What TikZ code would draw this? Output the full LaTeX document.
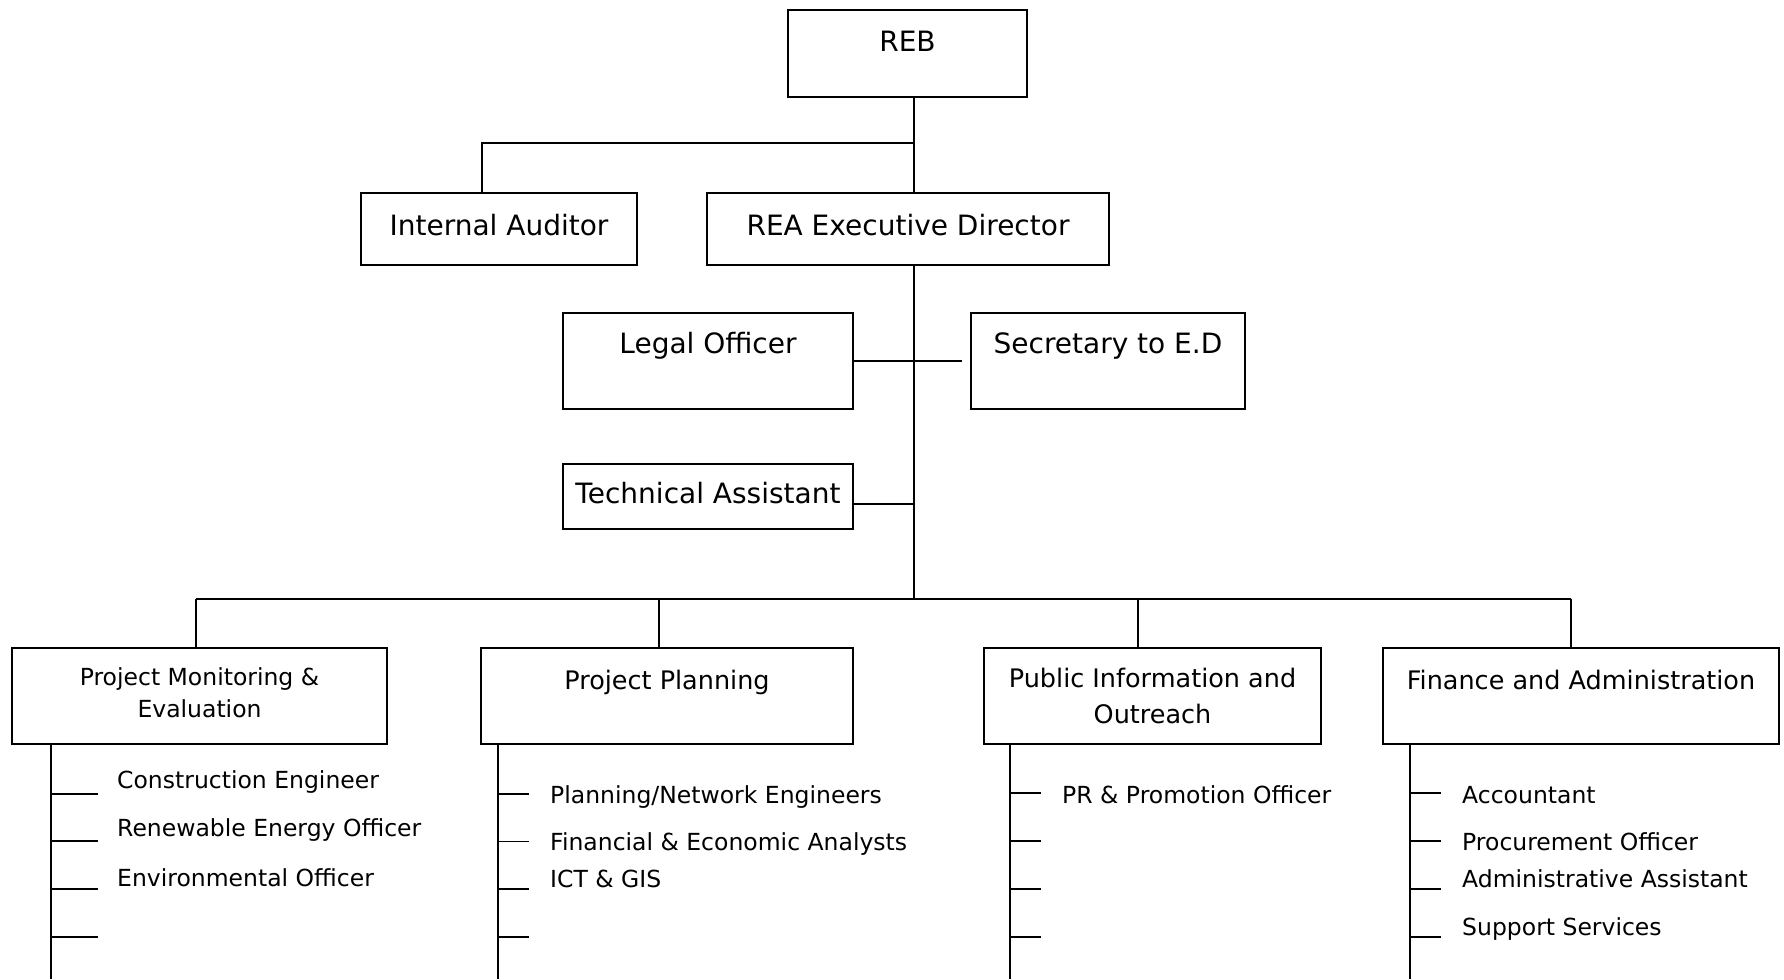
\documentclass[tikz,border=0pt]{standalone}
\usepackage{fontspec}
\setmainfont{DejaVu Sans}
\usepackage{tikz}
\usetikzlibrary{positioning}
\newcommand{\topfont}{\fontsize{28}{34}\selectfont}
\newcommand{\deptfont}{\fontsize{25.5}{36}\selectfont}
\newcommand{\rolefont}{\fontsize{23.5}{32}\selectfont}
\tikzset{
    orgbox/.style={rectangle, draw, line width=2pt, inner sep=0pt, anchor=north west, align=center, font=\topfont},
    deptbox/.style={orgbox, font=\deptfont},
    role/.style={anchor=base west, inner sep=0pt, font=\rolefont},
    link/.style={draw, line width=2pt},
    stub/.style={draw, line width=2pt}
}
\begin{document}
\begin{tikzpicture}[x=1pt, y=-1pt]
        \useasboundingbox (0,0) rectangle (1784,979);
        % top of the chart
        \node[orgbox, minimum width=239pt, text height=42pt, text depth=45pt] (reb) at (787,9) {REB};
        \node[orgbox, minimum width=276pt, text height=43pt, text depth=29.5pt] (auditor) at (360,191.5) {Internal Auditor};
        \node[orgbox, minimum width=402pt, text height=43pt, text depth=29.5pt] (director) at (706,191.5) {REA Executive Director};
        \node[orgbox, minimum width=290pt, text height=41pt, text depth=55.5pt] (legal) at (562,311.5) {Legal Officer};
        \node[orgbox, minimum width=274pt, text height=41pt, text depth=55.5pt] (secretary) at (970,311.5) {Secretary to E.D};
        \node[orgbox, minimum width=290pt, text height=40pt, text depth=25pt] (techasst) at (562,462.5) {Technical Assistant};

        % departments
        \node[deptbox, font=\rolefont, minimum width=375pt, text height=69.7pt, text depth=26.3pt] (pme) at (11,647) {Project Monitoring \&\\Evaluation};
        \node[deptbox, minimum width=372pt, text height=41pt, text depth=55pt] (planning) at (480,647) {Project Planning};
        \node[deptbox, minimum width=337pt, text height=75.7pt, text depth=20.3pt] (outreach) at (983,647) {Public Information and\\Outreach};
        \node[deptbox, minimum width=396pt, text height=41pt, text depth=55pt] (finance) at (1382,647) {Finance and Administration};

        \coordinate (fork) at (914,143);
        \coordinate (auditfork) at (482,143);
        \coordinate (bus) at (914,598.5);
        \coordinate (foot) at (0,979);

        \draw[link] (reb.south -| fork) -- (director.north -| fork);
        \draw[link] (fork) -- (auditfork) -- (auditor.north -| auditfork);
        \draw[link] (director.south -| bus) -- (bus);
        \draw[link] (legal.east) -- ([xshift=-8pt]secretary.west);
        \draw[link] ([yshift=-8pt]techasst.east) -- ([yshift=-8pt]techasst.east -| bus);

        \draw[link] ([xshift=-3.5pt]pme.north |- bus) -- ([xshift=-10pt]finance.north |- bus);
        \foreach \n/\s in {pme/-3.5, planning/-8, outreach/-14.5, finance/-10}
            \draw[link] ([xshift=\s pt]\n.north |- bus) -- ([xshift=\s pt]\n.north);

        % staff lines
        \foreach \n/\dx in {pme/39.5, planning/17.7, outreach/27, finance/28}
            \draw[link] ([xshift=\dx pt]\n.south west) -- ([xshift=\dx pt]\n.south west |- foot);
        \foreach \d in {49,96,144,192}
            \draw[stub] ([shift={(39.5pt,-\d pt)}]pme.south west) -- ++(47pt,0);
        \foreach \d in {49,144,192}
            \draw[stub] ([shift={(17.7pt,-\d pt)}]planning.south west) -- ++(31pt,0);
        \draw[line width=1pt] ([shift={(17.7pt,-96pt)}]planning.south west) -- ++(31pt,0);
        \foreach \n/\dx in {outreach/27, finance/28}
            \foreach \d in {48,96,144,192}
                \draw[stub] ([shift={(\dx pt,-\d pt)}]\n.south west) -- ++(31pt,0);

        \node[role] (construct) at (117,788.3) {Construction Engineer};
        \node[role] (renewable) at (117,836.7) {Renewable Energy Officer};
        \node[role] (environ) at (117,886.7) {Environmental Officer};
        \node[role] (network) at (550,803.3) {Planning/Network Engineers};
        \node[role] (analysts) at (550,850.7) {Financial \& Economic Analysts};
        \node[role] (ictgis) at (550,887.3) {ICT \& GIS};
        \node[role] (promo) at (1062,803.3) {PR \& Promotion Officer};
        \node[role] (account) at (1462,803.3) {Accountant};
        \node[role] (procure) at (1462,850.7) {Procurement Officer};
        \node[role] (adminasst) at (1462,887.3) {Administrative Assistant};
        \node[role] (support) at (1462,935) {Support Services};
    \end{tikzpicture}
\end{document}
